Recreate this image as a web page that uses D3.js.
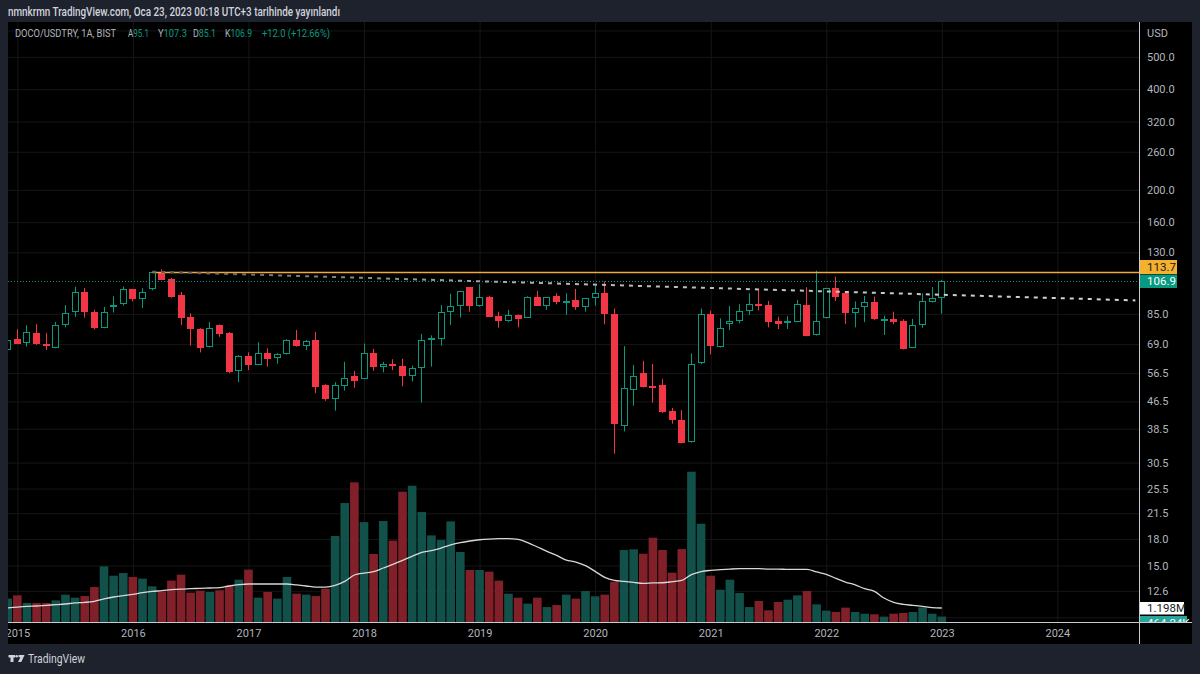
<!DOCTYPE html>
<html><head><meta charset="utf-8">
<script src="https://cdn.jsdelivr.net/npm/d3@7"></script>
<style>html,body{margin:0;padding:0;background:#1e222d;overflow:hidden}</style>
</head><body><svg id="c" width="1200" height="674"></svg>
<script>
// ---- data (monthly, index 0 = Dec 2014) ----
const opens=[66.3,71.5,69.6,74.6,69.0,67.4,78.8,85.9,99.1,86.3,77.1,90.0,
90.8,100.8,94.4,100.6,113.3,107.9,96.9,83.1,76.8,67.6,78.7,74.6,
57.2,63.5,59.9,64.8,62.6,64.4,71.2,68.3,71.0,51.9,47.2,51.7,
55.4,54.3,64.8,58.9,60.3,59.5,55.3,58.4,71.0,71.5,86.3,90.0,
102.1,89.5,95.8,83.5,80.7,84.4,82.8,95.2,90.0,96.2,92.3,93.6,
89.4,94.7,98.0,85.0,39.3,50.2,56.4,51.7,52.1,43.5,41.0,35.2,
60.7,85.0,67.6,79.2,80.9,86.8,91.0,90.2,80.7,80.4,80.5,90.4,
73.5,82.6,101.5,98.0,85.8,89.4,92.5,81.8,82.1,81.1,67.3,78.5,
92.1,95.1];
const highs=[71.5,76.5,78.6,79.1,74.6,80.4,90.4,102.5,101.6,87.4,89.2,96.0,
102.7,101.0,101.5,114.1,115.6,108.9,99.0,85.4,77.0,80.4,79.0,75.0,
64.0,65.2,69.9,67.0,64.8,71.4,76.1,71.0,75.1,52.3,53.1,61.1,
57.3,69.3,66.8,61.1,62.2,62.4,59.5,74.0,73.3,90.4,97.6,99.8,
102.3,104.3,96.2,86.3,87.4,84.6,96.0,99.6,95.4,98.0,98.0,101.0,
95.0,103.3,106.4,88.2,68.1,59.8,61.5,60.2,54.2,44.4,43.8,64.7,
88.2,87.0,82.4,89.8,90.9,98.0,100.8,92.9,83.4,83.7,93.6,102.1,
114.5,101.7,109.9,98.2,92.6,96.2,95.8,84.0,86.3,81.9,82.1,98.0,
102.3,107.3];
const lows=[66.0,69.0,67.8,68.7,66.3,67.1,77.5,83.3,82.8,76.4,77.0,85.8,
90.0,92.6,88.5,100.0,107.4,95.0,78.7,68.3,65.2,67.4,72.6,56.5,
53.1,57.7,59.7,59.1,60.3,64.2,67.8,66.3,49.2,46.7,43.6,50.1,
51.1,54.3,57.4,56.8,57.7,51.6,53.4,46.1,59.1,68.3,78.8,82.9,
86.3,89.3,83.1,77.3,80.5,77.5,82.6,89.8,87.4,90.8,84.4,87.4,
86.3,89.9,79.1,32.4,37.8,45.1,51.2,46.1,42.9,39.9,34.8,35.0,
60.1,64.3,67.4,76.1,79.6,84.4,87.0,77.5,76.6,76.6,80.3,72.8,
73.2,82.4,92.9,79.2,77.5,80.3,81.6,73.5,79.2,66.5,67.1,77.3,
91.9,85.1];
const closes=[71.1,69.3,75.0,68.9,68.6,78.9,85.8,98.6,86.2,76.9,86.3,90.4,
100.8,94.5,98.7,113.3,107.4,95.4,82.9,76.5,67.4,77.0,73.9,56.8,
63.6,59.9,64.8,62.4,64.6,71.2,68.0,70.7,51.4,47.2,51.9,54.5,
53.6,64.8,58.9,60.3,60.0,55.3,58.5,71.2,72.1,86.3,90.0,99.6,
89.5,95.8,83.3,80.7,84.4,82.1,95.8,90.0,95.2,92.3,92.7,89.4,
94.7,98.0,84.8,39.8,50.9,55.4,51.4,51.2,43.2,40.9,35.0,60.1,
84.8,67.9,77.0,81.1,86.8,90.9,90.2,80.5,79.2,80.7,90.9,73.0,
81.1,101.5,95.2,85.8,88.3,92.5,81.8,82.1,80.3,66.9,78.5,92.6,
94.9,106.9];
// volume in millions
const volumes=[2.0,2.28,1.63,1.63,1.63,1.85,2.34,2.08,2.22,2.99,4.76,3.96,
4.19,3.85,3.71,3.05,2.62,3.54,4.05,2.51,2.68,2.57,2.71,3.11,
3.62,4.48,2.08,2.57,2.0,3.85,2.42,2.34,2.22,2.85,7.36,10.18,
11.95,8.55,5.82,8.64,6.96,11.15,11.66,9.41,7.41,7.01,8.61,5.99,
4.45,4.45,4.31,3.54,2.42,2.08,1.57,2.08,1.28,1.45,2.34,2.0,
2.65,2.2,2.34,3.45,6.16,6.22,5.84,7.21,6.16,4.22,6.24,12.86,
8.41,3.96,2.76,3.62,2.48,1.28,1.8,1.0,1.71,1.91,2.28,2.65,
1.51,0.97,0.86,1.23,0.86,0.71,0.66,0.46,0.71,0.77,0.86,1.25,
0.71,0.464];
const volMA=[1.2,1.28,1.34,1.37,1.43,1.48,1.54,1.63,1.68,1.77,1.97,2.14,
2.25,2.37,2.51,2.62,2.68,2.77,2.82,2.85,2.88,2.91,2.94,3.08,
3.19,3.25,3.25,3.25,3.25,3.25,3.17,3.08,2.99,2.99,3.14,3.48,
4.02,4.19,4.31,4.62,4.93,5.28,5.62,5.96,6.1,6.33,6.59,6.79,
6.93,7.04,7.1,7.13,7.13,7.07,6.79,6.42,6.05,5.7,5.3,5.13,
4.82,4.33,3.82,3.56,3.48,3.39,3.31,3.34,3.36,3.45,3.56,4.05,
4.31,4.42,4.48,4.53,4.56,4.56,4.56,4.53,4.53,4.5,4.5,4.5,
4.28,4.08,3.74,3.42,3.17,2.85,2.62,2.05,1.68,1.51,1.43,1.34,
1.23,1.198];
const yearLabels=["2015","2016","2017","2018","2019","2020","2021","2022","2023","2024"];
const yearIndex=[1,13,25,37,49,61,73,85,97,109];
const priceTickLabels=[500,400,320,260,200,160,130,85,69,56.5,46.5,38.5,30.5,25.5,21.5,18,15,12.6];
const priceGrid=[600,500,400,320,260,200,160,130,85,69,56.5,46.5,38.5,30.5,25.5,21.5,18,15,12.6,10.5];
const resistanceLevel=113.7, resistanceStart=15;
const lastPrice=106.9;
const trendIdx=[15,117.1], trendVal=[113.7,93.3];
const lastVolLabel="464.24K", maLabel="1.198M";
const title="nmnkrmn TradingView.com, Oca 23, 2023 00:18 UTC+3 tarihinde yayınlandı";
const symbolText="DOCO/USDTRY, 1A, BIST";
const ohlcKeys=["A","Y","D","K"], ohlcVals=["95.1","107.3","85.1","106.9"];
const changeText="+12.0 (+12.66%)";

// ---- layout ----
const svg=d3.select("#c");
const L=8,T=22,R=1139,B=622,PR=1192,PB=644;
const x=d3.scaleLinear().domain([0,97]).range([7.7,7.7+97*9.63]);
const y=d3.scaleLog().domain([10.16,636]).range([B,T]);
const yv=d3.scaleLinear().domain([0,10]).range([B,B-116.86]);
const UP="#089981", DN="#f23645", TXT="#b2b5be";
const FONT="Roboto, 'Open Sans', sans-serif";

svg.append("rect").attr("width",1200).attr("height",674).attr("fill","#1e222d");
svg.append("rect").attr("x",L).attr("y",T).attr("width",PR-L).attr("height",PB-T).attr("fill","#000");

const defs=svg.append("defs");
defs.append("clipPath").attr("id","plot").append("rect").attr("x",L).attr("y",T).attr("width",R-L).attr("height",B-T);
defs.append("clipPath").attr("id","axisR").append("rect").attr("x",R).attr("y",T).attr("width",PR-R).attr("height",B-T);
defs.append("clipPath").attr("id","axisB").append("rect").attr("x",L).attr("y",B).attr("width",R-L).attr("height",PB-B);
const grad=defs.append("linearGradient").attr("id","tg").attr("gradientUnits","userSpaceOnUse")
  .attr("x1",x(trendIdx[0])).attr("x2",x(trendIdx[1])).attr("y1",0).attr("y2",0);
grad.append("stop").attr("offset","0%").attr("stop-color","#5e5e5e");
grad.append("stop").attr("offset","45%").attr("stop-color","#b8b8b8");
grad.append("stop").attr("offset","100%").attr("stop-color","#d6d6d6");

const plot=svg.append("g").attr("clip-path","url(#plot)");

// grid via axes
plot.append("g").attr("transform",`translate(${L},0)`)
  .call(d3.axisRight(y).tickValues(priceGrid).tickSize(R-L).tickFormat(""))
  .call(g=>{g.select(".domain").remove();g.selectAll("line").attr("stroke","#161616");});
plot.append("g").attr("transform",`translate(0,${T})`)
  .call(d3.axisBottom(x).tickValues(yearIndex).tickSize(B-T).tickFormat(""))
  .call(g=>{g.select(".domain").remove();g.selectAll("line").attr("stroke","#161616");});

const idx=d3.range(opens.length);
// volume bars
plot.append("g").selectAll("rect").data(idx).join("rect")
  .attr("x",i=>x(i)-4.3).attr("width",8.6)
  .attr("y",i=>yv(volumes[i])).attr("height",i=>B-yv(volumes[i]))
  .attr("fill",i=>closes[i]>=opens[i]?"#12504a":"#82202a");
// volume MA
plot.append("path").datum(idx)
  .attr("d",d3.line().x(i=>x(i)).y(i=>yv(volMA[i])).curve(d3.curveMonotoneX))
  .attr("fill","none").attr("stroke","#d8d8d8").attr("stroke-width",1.3);

// candles
const cg=plot.append("g");
idx.forEach(i=>{
  const up=closes[i]>=opens[i];
  const left=Math.round(x(i)-3.5);
  const cx=left+3.5;
  const top=Math.round(y(Math.max(opens[i],closes[i])));
  let bot=Math.round(y(Math.min(opens[i],closes[i])));
  if(bot-top<2) bot=top+2;
  const col=up?UP:DN;
  cg.append("line").attr("x1",cx).attr("x2",cx).attr("y1",y(highs[i])).attr("y2",top)
    .attr("stroke",col).attr("stroke-width",1);
  cg.append("line").attr("x1",cx).attr("x2",cx).attr("y1",bot).attr("y2",y(lows[i]))
    .attr("stroke",col).attr("stroke-width",1);
  if(up){
    cg.append("rect").attr("x",left+0.5).attr("y",top+0.5).attr("width",6).attr("height",Math.max(1,bot-top-1))
      .attr("fill","#000").attr("stroke",col).attr("stroke-width",1);
  } else {
    cg.append("rect").attr("x",left).attr("y",top).attr("width",7).attr("height",bot-top).attr("fill",col);
  }
});

// price lines
plot.append("line").attr("x1",L).attr("x2",R).attr("y1",Math.round(y(lastPrice))+0.5).attr("y2",Math.round(y(lastPrice))+0.5)
  .attr("stroke",UP).attr("stroke-width",1).attr("stroke-dasharray","1,2");
plot.append("line").attr("x1",x(resistanceStart)).attr("x2",R).attr("y1",Math.round(y(resistanceLevel))+0.5).attr("y2",Math.round(y(resistanceLevel))+0.5)
  .attr("stroke","#f2a93b").attr("stroke-width",1.6);
plot.append("line").attr("x1",x(trendIdx[0])).attr("x2",x(trendIdx[1])).attr("y1",y(trendVal[0])).attr("y2",y(trendVal[1]))
  .attr("stroke","url(#tg)").attr("stroke-width",2).attr("stroke-dasharray","4,5");

// right axis
const ax=svg.append("g").attr("clip-path","url(#axisR)");
ax.append("g").attr("transform",`translate(${R},0)`)
  .call(d3.axisRight(y).tickValues(priceTickLabels).tickSize(0).tickPadding(8).tickFormat(d3.format(".1f")))
  .call(g=>{g.select(".domain").remove();g.selectAll("text").attr("fill",TXT).attr("font-size",11).attr("font-family",FONT);});
ax.append("text").attr("x",R+8).attr("y",37).text("USD").attr("fill",TXT).attr("font-size",11).attr("font-family",FONT);
// value labels
function tag(yTop,h,w,bg,fg,txt){
  ax.append("rect").attr("x",R).attr("y",yTop).attr("width",w).attr("height",h).attr("fill",bg);
  ax.append("text").attr("x",R+8).attr("y",yTop+h/2).attr("dy","0.36em").text(txt)
    .attr("fill",fg).attr("font-size",11.5).attr("font-family",FONT);
}
tag(260,14,38,"#f5b12e","#131722",resistanceLevel.toFixed(1));
tag(274.5,13.5,38,UP,"#ffffff",lastPrice.toFixed(1));
tag(yv(volMA[volMA.length-1])-6,12.5,45,"#ffffff","#131722",maLabel);
tag(616,13,48,"#26a69a","#ffffff",lastVolLabel);

// bottom axis
const bx=svg.append("g").attr("clip-path","url(#axisB)");
bx.append("g").attr("transform",`translate(0,${B})`)
  .call(d3.axisBottom(x).tickValues(yearIndex).tickSize(0).tickPadding(7).tickFormat((d,k)=>yearLabels[k]))
  .call(g=>{g.select(".domain").remove();g.selectAll("text").attr("fill",TXT).attr("font-size",11).attr("font-family",FONT);});

// separators
svg.append("line").attr("x1",R+0.5).attr("x2",R+0.5).attr("y1",T).attr("y2",PB).attr("stroke","#c9cbd1").attr("stroke-width",1);
svg.append("line").attr("x1",L).attr("x2",PR).attr("y1",B+0.5).attr("y2",B+0.5).attr("stroke","#c9cbd1").attr("stroke-width",1);

// header
svg.append("text").attr("x",8).attr("y",16).text(title).attr("fill","#d1d4dc").attr("font-size",12)
  .attr("font-weight",500).attr("font-family",FONT).attr("textLength",332).attr("lengthAdjust","spacingAndGlyphs");
function legendText(xp,w,parts){
  const t=svg.append("text").attr("x",xp).attr("y",37).attr("font-size",10.2).attr("font-family",FONT)
    .attr("textLength",w).attr("lengthAdjust","spacingAndGlyphs");
  parts.forEach(p=>t.append("tspan").attr("fill",p[1]).text(p[0]));
}
legendText(15,101,[[symbolText,TXT]]);
const ohlcX=[128,158,193,225], ohlcW=[21,29,23,27];
ohlcKeys.forEach((k,j)=>legendText(ohlcX[j],ohlcW[j],[[k,TXT],[ohlcVals[j],UP]]));
legendText(262,68,[[changeText,UP]]);

// footer logo
const lgo=svg.append("g").attr("fill","#d1d4dc");
lgo.append("path").attr("d","M8.5,655 H15 V657.5 H13.5 V662 H10.5 V657.5 H8.5 Z");
lgo.append("circle").attr("cx",16.6).attr("cy",656.3).attr("r",1.3);
lgo.append("path").attr("d","M18.5,655 H24.5 L21.3,662 H18 L20.4,657.3 H18.5 Z");
svg.append("text").attr("x",28).attr("y",662.5).text("TradingView").attr("fill","#d1d4dc")
  .attr("font-size",12.5).attr("font-family",FONT).attr("textLength",57).attr("lengthAdjust","spacingAndGlyphs");
</script></body></html>
